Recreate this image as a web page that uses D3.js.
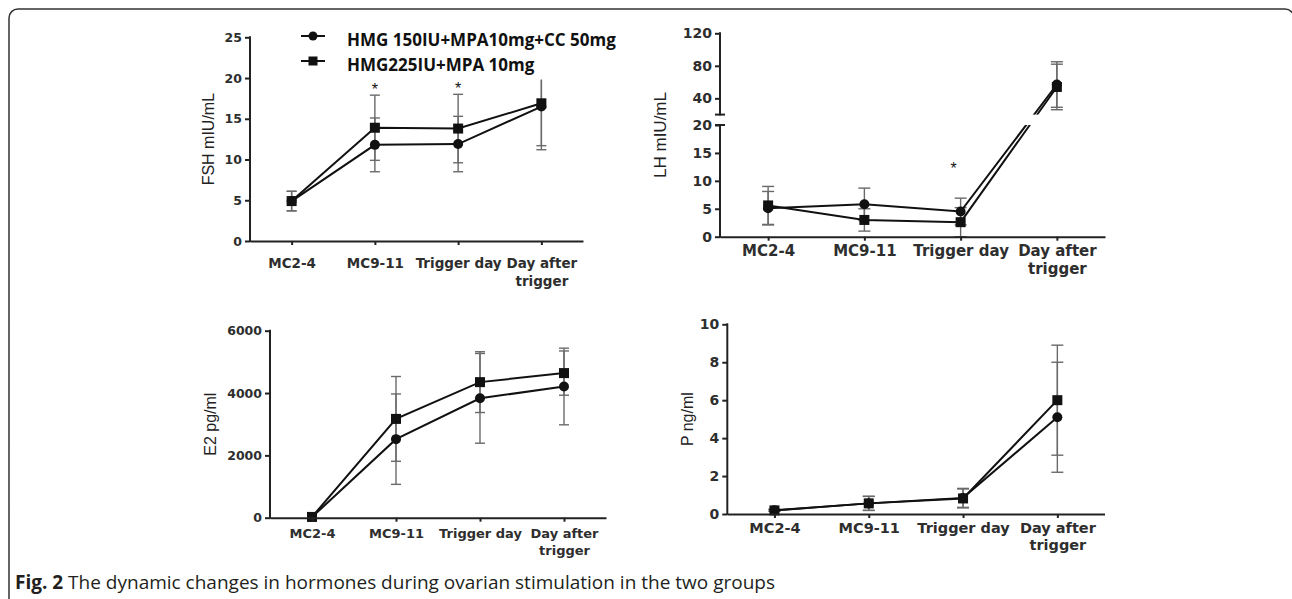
<!DOCTYPE html>
<html>
<head>
<meta charset="utf-8">
<script src="https://cdn.jsdelivr.net/npm/d3@7"></script>
<style>
  body { margin: 0; background: #fff; }
  svg { display: block; }
  .tick-text { font-family: "DejaVu Sans", sans-serif; font-weight: bold; fill: #2e2e2e; }
  .axis-title { font-family: "Liberation Sans", Arial, sans-serif; fill: #222; }
  .legend-text { font-family: "Open Sans", sans-serif; font-weight: bold; fill: #111; }
</style>
</head>
<body>
<svg id="chart" width="1292" height="599"></svg>
<script>
// categories and series
const stages = ["MC2-4", "MC9-11", "Trigger day", "Day after trigger"];
const stageLines = [["MC2-4"], ["MC9-11"], ["Trigger day"], ["Day after", "trigger"]];
const seriesNames = ["HMG 150IU+MPA10mg+CC 50mg", "HMG225IU+MPA 10mg"];

// FSH mIU/mL (mean, sd)
const fshCC = [4.9, 11.8, 11.9, 16.5];
const fshCCsd = [1.2, 3.3, 3.4, 5.3];
const fshNoCC = [4.9, 13.9, 13.8, 16.9];
const fshNoCCsd = [1.2, 4.0, 4.2, 5.2];
const fshTicks = [0, 5, 10, 15, 20, 25];
const fshStars = ["MC9-11", "Trigger day"];

// LH mIU/mL
const lhCC = [5.1, 5.8, 4.5, 57];
const lhCCsd = [3.0, 2.9, 2.4, 28];
const lhNoCC = [5.6, 3.0, 2.6, 54];
const lhNoCCsd = [3.4, 2.0, 2.6, 28];
const lhTicks = [0, 5, 10, 15, 20, 40, 80, 120];
const lhStars = ["Trigger day"];

// E2 pg/ml
const e2CC = [20, 2520, 3830, 4210];
const e2CCsd = [10, 1450, 1440, 1230];
const e2NoCC = [25, 3170, 4350, 4640];
const e2NoCCsd = [10, 1360, 975, 710];
const e2Ticks = [0, 2000, 4000, 6000];

// P ng/ml
const pCC = [0.2, 0.56, 0.85, 5.1];
const pCCsd = [0.05, 0.37, 0.5, 2.9];
const pNoCC = [0.19, 0.56, 0.82, 6.0];
const pNoCCsd = [0.05, 0.37, 0.5, 2.9];
const pTicks = [0, 2, 4, 6, 8, 10];

const svg = d3.select('#chart');

// outer frame with rounded corner (right edge runs off the page)
svg.append('rect')
  .attr('x', 9).attr('y', 9)
  .attr('width', 1285).attr('height', 700)
  .attr('rx', 9)
  .attr('fill', 'none')
  .attr('stroke', '#333')
  .attr('stroke-width', 1.5);

function drawPanel(p) {
  const g = svg.append('g');
  const x = d3.scalePoint().domain(stages).range(p.xRange).padding(0.5);
  const y = d3.scaleLinear().domain(p.yDomain).range(p.yRange);
  const x0 = p.xRange[0];

  const series = [
    {mean: p.cc, sd: p.ccSd, shape: 'circle'},
    {mean: p.noCC, sd: p.noCCSd, shape: 'square'}
  ];

  // error bars
  const cap = p.capW / 2;
  series.forEach(s => {
    s.mean.forEach((m, i) => {
      const cx = x(stages[i]);
      let hi = m + s.sd[i];
      const clipped = p.errMax !== undefined && hi > p.errMax;
      if (clipped) hi = p.errMax;
      const lo = Math.max(m - s.sd[i], 0);
      const eb = g.append('g').attr('stroke', '#6a6a6a').attr('stroke-width', 1.4);
      eb.append('line').attr('x1', cx).attr('x2', cx).attr('y1', y(hi)).attr('y2', y(lo));
      if (!clipped) eb.append('line').attr('x1', cx - cap).attr('x2', cx + cap).attr('y1', y(hi)).attr('y2', y(hi));
      eb.append('line').attr('x1', cx - cap).attr('x2', cx + cap).attr('y1', y(lo)).attr('y2', y(lo));
    });
  });

  // lines
  const line = d3.line().x((d, i) => x(stages[i])).y(d => y(d));
  series.forEach(s => {
    g.append('path')
      .attr('d', line(s.mean))
      .attr('fill', 'none')
      .attr('stroke', '#111')
      .attr('stroke-width', 2);
  });

  // broken axis gap
  if (p.breakAt) {
    const yTop = y(p.yDomain[2]);
    const yBot = y(p.yDomain[1]);
    g.append('rect')
      .attr('x', x0 + 2).attr('y', yTop)
      .attr('width', p.xRange[1] - x0).attr('height', yBot - yTop)
      .attr('fill', '#fff');
  }

  // markers
  series.forEach(s => {
    s.mean.forEach((m, i) => {
      const cx = x(stages[i]), cy = y(m);
      if (s.shape === 'circle') {
        g.append('circle').attr('cx', cx).attr('cy', cy).attr('r', p.mk / 2).attr('fill', '#111');
      } else {
        g.append('rect').attr('x', cx - p.mk / 2).attr('y', cy - p.mk / 2)
          .attr('width', p.mk).attr('height', p.mk).attr('fill', '#111');
      }
    });
  });

  // y axis
  const yAxis = g.append('g')
    .attr('transform', `translate(${x0},0)`)
    .call(d3.axisLeft(y).tickValues(p.ticks).tickSize(5).tickSizeOuter(0).tickFormat(d3.format('d')));
  yAxis.select('.domain').remove();
  yAxis.selectAll('.tick line').attr('stroke', '#222').attr('stroke-width', 2);
  yAxis.selectAll('.tick text')
    .attr('class', 'tick-text')
    .attr('x', -8)
    .style('font-size', p.yFont + 'px');

  const segs = p.breakAt
    ? [[p.yDomain[0], p.yDomain[1]], [p.yDomain[2], p.yDomain[3]]]
    : [[p.yDomain[0], p.yDomain[p.yDomain.length - 1]]];
  segs.forEach(sg => {
    g.append('line')
      .attr('x1', x0).attr('x2', x0)
      .attr('y1', y(sg[0]) + 1).attr('y2', y(sg[1]) - 1)
      .attr('stroke', '#222').attr('stroke-width', 2);
  });
  if (p.breakAt) {
    [y(p.yDomain[1]), y(p.yDomain[2])].forEach(by => {
      g.append('line')
        .attr('x1', x0 - 5).attr('x2', x0 + 5)
        .attr('y1', by).attr('y2', by)
        .attr('stroke', '#222').attr('stroke-width', 2);
    });
  }

  // x axis
  const xAxis = g.append('g')
    .attr('transform', `translate(0,${p.yRange[0]})`)
    .call(d3.axisBottom(x).tickSize(4).tickSizeOuter(0));
  xAxis.select('.domain').attr('stroke', '#222').attr('stroke-width', 2);
  xAxis.selectAll('.tick line').attr('stroke', '#222').attr('stroke-width', 2);
  xAxis.selectAll('.tick text').remove();
  xAxis.selectAll('.tick').each(function(d, i) {
    const t = d3.select(this).append('text')
      .attr('class', 'tick-text')
      .attr('text-anchor', 'middle')
      .style('font-size', p.xFont + 'px');
    stageLines[i].forEach((ln, k) => {
      t.append('tspan').attr('x', 0).attr('y', p.xLabelDy + k * p.xLineH).text(ln);
    });
  });

  // y title
  g.append('text')
    .attr('class', 'axis-title')
    .attr('text-anchor', 'middle')
    .attr('transform', `translate(${p.titleX},${(p.yRange[0] + p.yRange[p.yRange.length - 1]) / 2}) rotate(-90)`)
    .attr('dy', '0.35em')
    .style('font-size', p.titleFont + 'px')
    .text(p.title);

  // significance marks
  (p.stars || []).forEach(st => {
    const i = stages.indexOf(st);
    const top = Math.max(p.cc[i] + p.ccSd[i], p.noCC[i] + p.noCCSd[i]);
    g.append('text')
      .attr('x', x(st) + (p.starDx || 0))
      .attr('y', y(top) - p.starGap + 9)
      .attr('text-anchor', 'middle')
      .style('font-family', '"Liberation Sans", Arial, sans-serif')
      .style('font-size', '16px')
      .attr('fill', '#111')
      .text('*');
  });
}

drawPanel({
  xRange: [250, 583], yDomain: [0, 25], yRange: [241, 37.3], ticks: fshTicks,
  cc: fshCC, ccSd: fshCCsd, noCC: fshNoCC, noCCSd: fshNoCCsd,
  errMax: 19.8, capW: 10, mk: 10,
  yFont: 12.5, xFont: 13.5, xLabelDy: 27, xLineH: 18,
  title: 'FSH mIU/mL', titleX: 208, titleFont: 16,
  stars: fshStars, starGap: 9
});

drawPanel({
  xRange: [720, 1105], yDomain: [0, 20, 20.001, 120], yRange: [236.7, 125, 114.6, 33.3], ticks: lhTicks,
  breakAt: 20,
  cc: lhCC, ccSd: lhCCsd, noCC: lhNoCC, noCCSd: lhNoCCsd,
  capW: 12, mk: 10,
  yFont: 14, xFont: 15, xLabelDy: 19, xLineH: 18,
  title: 'LH mIU/mL', titleX: 660, titleFont: 17,
  stars: lhStars, starGap: 33, starDx: -7
});

drawPanel({
  xRange: [270, 606], yDomain: [0, 6000], yRange: [517.7, 330.7], ticks: e2Ticks,
  cc: e2CC, ccSd: e2CCsd, noCC: e2NoCC, noCCSd: e2NoCCsd,
  capW: 10, mk: 10,
  yFont: 12.5, xFont: 13, xLabelDy: 20.5, xLineH: 16.5,
  title: 'E2 pg/ml', titleX: 210, titleFont: 16
});

drawPanel({
  xRange: [727.3, 1104.5], yDomain: [0, 10], yRange: [514, 324.3], ticks: pTicks,
  cc: pCC, ccSd: pCCsd, noCC: pNoCC, noCCSd: pNoCCsd,
  capW: 12, mk: 10,
  yFont: 14, xFont: 14.5, xLabelDy: 19, xLineH: 17,
  title: 'P ng/ml', titleX: 687, titleFont: 16
});

// legend
const legend = svg.append('g').attr('transform', 'translate(301,0)');
seriesNames.forEach((name, i) => {
  const row = legend.append('g').attr('transform', `translate(0,${36 + i * 25})`);
  row.append('line').attr('x1', 0).attr('x2', 24).attr('stroke', '#111').attr('stroke-width', 2);
  if (i === 0) row.append('circle').attr('cx', 12).attr('r', 4.5).attr('fill', '#111');
  else row.append('rect').attr('x', 7.5).attr('y', -4.5).attr('width', 9).attr('height', 9).attr('fill', '#111');
  row.append('text')
    .attr('class', 'legend-text')
    .attr('x', 46).attr('y', 4).attr('dy', '0.35em')
    .style('font-size', '17px')
    .text(name);
});

// caption
const caption = svg.append('text')
  .attr('x', 15).attr('y', 589)
  .style('font-family', '"Open Sans", sans-serif')
  .style('font-size', '19px')
  .attr('fill', '#231f20');
caption.append('tspan').attr('font-weight', 'bold').text('Fig. 2');
caption.append('tspan').text(' The dynamic changes in hormones during ovarian stimulation in the two groups');
</script>
</body>
</html>
